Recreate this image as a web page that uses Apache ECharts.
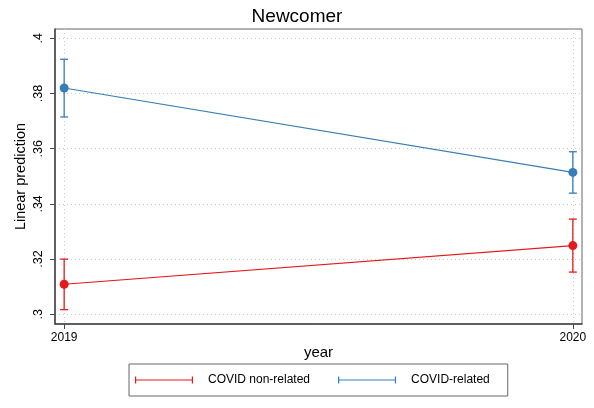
<!DOCTYPE html>
<html>
<head>
<meta charset="utf-8">
<script src="https://cdn.jsdelivr.net/npm/echarts@6/dist/echarts.min.js"></script>
<style>html,body{margin:0;padding:0;background:#fff}#c{width:594px;height:408px}</style>
</head>
<body>
<div id="c"></div>
<script>
var years = [2019, 2020];
var yTicks = [0.3, 0.32, 0.34, 0.36, 0.38, 0.4];
var yTickLabels = ['.3', '.32', '.34', '.36', '.38', '.4'];
var seriesNames = ['COVID non-related', 'COVID-related'];
var nonRelated = [0.3109, 0.3249];
var nonRelatedLo = [0.3017, 0.3153];
var nonRelatedHi = [0.3200, 0.3345];
var related = [0.3820, 0.3514];
var relatedLo = [0.3715, 0.3439];
var relatedHi = [0.3924, 0.3589];

var colors = ['#e41a1c', '#377eb8'];
var FONT = 'Liberation Sans, Arial, sans-serif';
var legendIcon = 'path://M0,2.9H58V4.1H0Z M0,0H1.2V7H0Z M56.8,0H58V7H56.8Z';

function ciData(lo, hi) {
  return years.map(function (y, i) { return [y, lo[i], hi[i]]; });
}
function lineData(v) {
  return years.map(function (y, i) { return [y, v[i]]; });
}
function errRender(color) {
  return function (params, api) {
    var x = api.value(0);
    var lo = api.coord([x, api.value(1)]);
    var hi = api.coord([x, api.value(2)]);
    var cap = 4;
    var st = { stroke: color, lineWidth: 1.3 };
    return {
      type: 'group',
      children: [
        { type: 'line', shape: { x1: lo[0], y1: lo[1], x2: hi[0], y2: hi[1] }, style: st },
        { type: 'line', shape: { x1: lo[0] - cap, y1: lo[1], x2: lo[0] + cap, y2: lo[1] }, style: st },
        { type: 'line', shape: { x1: hi[0] - cap, y1: hi[1], x2: hi[0] + cap, y2: hi[1] }, style: st }
      ]
    };
  };
}

var chart = echarts.init(document.getElementById('c'), null, { renderer: 'canvas' });
var gridLine = { show: true, lineStyle: { color: '#c8c8c8', type: [1, 3], width: 1 } };
chart.setOption({
  animation: false,
  backgroundColor: '#fff',
  textStyle: { fontFamily: FONT },
  title: {
    text: 'Newcomer', left: 'center', top: 2,
    textStyle: { fontFamily: FONT, fontSize: 19, fontWeight: 'normal', color: '#000' }
  },
  grid: { left: 55, right: 12, top: 29, bottom: 84, show: true, borderColor: '#666', borderWidth: 1 },
  legend: {
    left: 129, top: 364,
    padding: [10, 18, 10, 6],
    itemGap: 28,
    itemWidth: 58, itemHeight: 7,
    borderColor: '#666', borderWidth: 1,
    data: [
      { name: seriesNames[0], icon: legendIcon },
      { name: seriesNames[1], icon: legendIcon }
    ],
    textStyle: { fontFamily: FONT, fontSize: 12, color: '#000', padding: [0, 0, 0, 10] }
  },
  xAxis: {
    type: 'value',
    min: 2018.982, max: 2020.018,
    name: 'year', nameLocation: 'middle', nameGap: 21, nameMoveOverlap: false,
    nameTextStyle: { fontFamily: FONT, fontSize: 15, color: '#000' },
    axisLine: { show: true, onZero: false, lineStyle: { color: '#444', width: 1.5 } },
    axisTick: { show: true, length: 5, customValues: years, lineStyle: { color: '#444' } },
    axisLabel: { customValues: years, margin: 8, fontSize: 12, color: '#000', fontFamily: FONT, formatter: function (v) { return String(v); } },
    splitLine: gridLine
  },
  yAxis: {
    type: 'value',
    min: 0.29649, max: 0.40337,
    name: 'Linear prediction', nameLocation: 'middle', nameGap: 27, nameMoveOverlap: false,
    nameTextStyle: { fontFamily: FONT, fontSize: 14.5, color: '#000' },
    axisLine: { show: true, onZero: false, lineStyle: { color: '#444', width: 1.5 } },
    axisTick: { show: true, length: 5, customValues: yTicks, lineStyle: { color: '#444' } },
    axisLabel: {
      customValues: yTicks, rotate: 90, margin: 10, fontSize: 12.5, color: '#000', fontFamily: FONT,
      formatter: function (v) {
        for (var i = 0; i < yTicks.length; i++) { if (Math.abs(yTicks[i] - v) < 1e-9) return yTickLabels[i]; }
        return '';
      }
    },
    splitLine: gridLine
  },
  series: [
    { name: seriesNames[0], type: 'custom', renderItem: errRender(colors[0]), data: ciData(nonRelatedLo, nonRelatedHi), encode: { x: 0, y: [1, 2] }, itemStyle: { color: colors[0] }, z: 3 },
    { name: seriesNames[0], type: 'line', data: lineData(nonRelated), symbol: 'circle', symbolSize: 9, itemStyle: { color: colors[0] }, lineStyle: { color: colors[0], width: 1.2 }, z: 4 },
    { name: seriesNames[1], type: 'custom', renderItem: errRender(colors[1]), data: ciData(relatedLo, relatedHi), encode: { x: 0, y: [1, 2] }, itemStyle: { color: colors[1] }, z: 5 },
    { name: seriesNames[1], type: 'line', data: lineData(related), symbol: 'circle', symbolSize: 9, itemStyle: { color: colors[1] }, lineStyle: { color: colors[1], width: 1.2 }, z: 6 }
  ]
});
</script>
</body>
</html>
